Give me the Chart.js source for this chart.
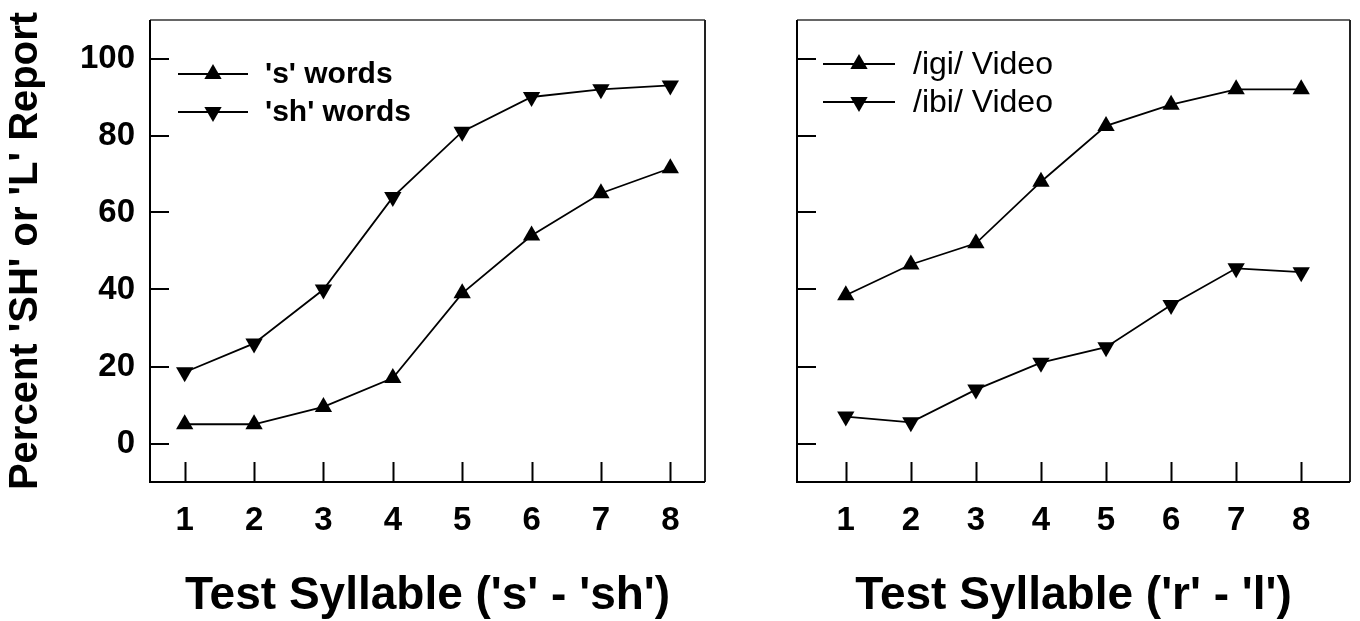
<!DOCTYPE html>
<html>
<head>
<meta charset="utf-8">
<script src="https://cdn.jsdelivr.net/npm/chart.js@4.4.0/dist/chart.umd.min.js"></script>
<style>
  body { margin: 0; background: #fff; width: 1360px; height: 621px; overflow: hidden; position: relative; }
  #left-chart { position: absolute; left: 0; top: 0; }
  #right-chart { position: absolute; left: 740px; top: 0; }
</style>
</head>
<body>
<canvas id="left-chart" width="740" height="621" style="width:740px;height:621px"></canvas>
<canvas id="right-chart" width="620" height="621" style="width:620px;height:621px"></canvas>
<script>
// data
const syllables = [1, 2, 3, 4, 5, 6, 7, 8];
const sWords = [5, 5, 9.5, 17, 39, 54, 65, 71.5];
const shWords = [18.5, 26, 40, 64, 81, 90, 92, 93];
const igiVideo = [38.5, 46.5, 52, 68, 82.5, 88, 92, 92];
const ibiVideo = [7, 5.5, 14, 21, 25, 36, 45.5, 44.5];
const xTicks = [1, 2, 3, 4, 5, 6, 7, 8];
const yTicks = [0, 20, 40, 60, 80, 100];

const FONT = "'Liberation Sans', Arial, Helvetica, sans-serif";

function toPoints(values) {
    return syllables.map((s, i) => ({ x: s, y: values[i] }));
}

function series(label, values, rotation) {
    return {
        label: label,
        data: toPoints(values),
        borderColor: '#000',
        borderWidth: 1.8,
        backgroundColor: '#000',
        pointStyle: 'triangle',
        pointRotation: rotation,
        pointRadius: 10,
        pointBorderWidth: 0,
        pointBackgroundColor: '#000',
        tension: 0
    };
}

// frame, inward tick marks and the in-plot legend
const panelDecor = {
    id: 'panelDecor',
    afterDatasetsDraw(chart, args, opts) {
        const ctx = chart.ctx;
        const a = chart.chartArea;
        const xs = chart.scales.x, ys = chart.scales.y;
        ctx.save();
        ctx.lineCap = 'butt';
        // tick marks pointing into the plot
        ctx.strokeStyle = '#000';
        ctx.lineWidth = 2;
        ctx.beginPath();
        xs.ticks.forEach(t => {
            const px = Math.round(xs.getPixelForValue(t.value)) + 0.5;
            ctx.moveTo(px, a.bottom);
            ctx.lineTo(px, a.bottom - 20);
        });
        ys.ticks.forEach(t => {
            const py = Math.round(ys.getPixelForValue(t.value));
            ctx.moveTo(a.left, py);
            ctx.lineTo(a.left + 19, py);
        });
        ctx.stroke();
        // box
        ctx.strokeStyle = '#666';
        ctx.beginPath();
        ctx.moveTo(a.left, a.top);
        ctx.lineTo(a.right, a.top);
        ctx.stroke();
        ctx.strokeStyle = '#222';
        ctx.beginPath();
        ctx.moveTo(a.right, a.top);
        ctx.lineTo(a.right, a.bottom);
        ctx.stroke();
        ctx.strokeStyle = '#000';
        ctx.beginPath();
        ctx.moveTo(a.left, a.top);
        ctx.lineTo(a.left, a.bottom);
        ctx.lineTo(a.right, a.bottom);
        ctx.stroke();

        // legend
        const lg = opts.legend;
        chart.data.datasets.forEach((ds, i) => {
            const y = a.top + lg.rows[i];
            const x1 = a.left + lg.lineStart, x2 = a.left + lg.lineEnd;
            ctx.strokeStyle = '#000';
            ctx.lineWidth = 1.8;
            ctx.beginPath();
            ctx.moveTo(x1, y);
            ctx.lineTo(x2, y);
            ctx.stroke();
            ctx.fillStyle = '#000';
            Chart.helpers.drawPoint(ctx, {
                pointStyle: ds.pointStyle,
                rotation: ds.pointRotation,
                radius: ds.pointRadius,
                borderWidth: 0
            }, (x1 + x2) / 2, y);
            ctx.font = lg.font;
            ctx.textAlign = 'left';
            ctx.textBaseline = 'middle';
            ctx.fillText(ds.label, a.left + lg.textStart, y + 1);
        });
        ctx.restore();
    }
};

function buildChart(canvasId, cfg) {
    const ctx = document.getElementById(canvasId).getContext('2d');
    return new Chart(ctx, {
        type: 'line',
        data: { datasets: cfg.datasets },
        options: {
            responsive: false,
            animation: false,
            layout: { padding: { top: 20, right: cfg.padRight, bottom: 0, left: 0 } },
            plugins: {
                legend: { display: false },
                tooltip: { enabled: false },
                panelDecor: { legend: cfg.legend }
            },
            scales: {
                x: {
                    type: 'linear',
                    min: cfg.xMin,
                    max: cfg.xMax,
                    grid: { display: false, drawTicks: false },
                    border: { display: false },
                    afterBuildTicks: s => { s.ticks = xTicks.map(v => ({ value: v })); },
                    afterFit: s => { s.height = 139; s.paddingLeft = 0; s.paddingRight = 0; },
                    ticks: {
                        color: '#000',
                        padding: 19,
                        maxRotation: 0,
                        font: { family: FONT, size: 33, weight: 'bold' }
                    },
                    title: {
                        display: true,
                        text: cfg.xTitle,
                        color: '#000',
                        padding: { top: 0, bottom: 2 },
                        font: { family: FONT, size: 46, weight: 'bold', lineHeight: 1 }
                    }
                },
                y: {
                    type: 'linear',
                    min: -10,
                    max: 110,
                    grid: { display: false, drawTicks: false },
                    border: { display: false },
                    afterBuildTicks: s => { s.ticks = yTicks.map(v => ({ value: v })); },
                    afterFit: s => { s.width = cfg.yWidth; s.paddingTop = 0; s.paddingBottom = 0; },
                    ticks: {
                        display: cfg.yLabels,
                        color: '#000',
                        padding: 15,
                        font: { family: FONT, size: 33, weight: 'bold' }
                    },
                    title: {
                        display: cfg.yTitle !== '',
                        text: cfg.yTitle,
                        color: '#000',
                        padding: { top: 2, bottom: 0 },
                        font: { family: FONT, size: 40, weight: 'bold', lineHeight: 1.2 }
                    }
                }
            }
        },
        plugins: [panelDecor]
    });
}

// left panel: 's' - 'sh'
buildChart('left-chart', {
    datasets: [series("'s' words", sWords, 0), series("'sh' words", shWords, 180)],
    xMin: 0.5, xMax: 8.5,
    padRight: 35,
    yWidth: 150,
    yLabels: true,
    yTitle: "Percent 'SH' or 'L' Report",
    xTitle: "Test Syllable ('s' - 'sh')",
    legend: { rows: [54, 92], lineStart: 28, lineEnd: 98, textStart: 115, font: 'bold 30px ' + FONT }
});

// right panel: 'r' - 'l'
buildChart('right-chart', {
    datasets: [series('/igi/ Video', igiVideo, 0), series('/ibi/ Video', ibiVideo, 180)],
    xMin: 0.25, xMax: 8.75,
    padRight: 8,
    yWidth: 57,
    yLabels: false,
    yTitle: '',
    xTitle: "Test Syllable ('r' - 'l')",
    legend: { rows: [44, 82], lineStart: 26, lineEnd: 98, textStart: 116, font: '32px ' + FONT }
});
</script>
</body>
</html>
